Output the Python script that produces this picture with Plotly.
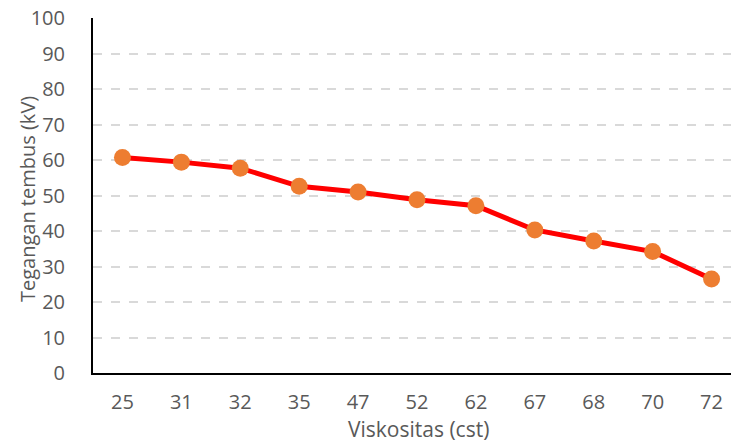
import plotly.graph_objects as go

categories = ["25", "31", "32", "35", "47", "52", "62", "67", "68", "70", "72"]
tegangan = [60.7, 59.4, 57.7, 52.6, 51.0, 48.8, 47.1, 40.3, 37.2, 34.2, 26.5]
y_ticks = [0, 10, 20, 30, 40, 50, 60, 70, 80, 90, 100]
x_title = "Viskositas (cst)"
y_title = "Tegangan tembus (kV)"

fig = go.Figure()
fig.add_trace(go.Scatter(
    x=list(range(len(categories))), y=tegangan, mode="lines+markers",
    line=dict(color="#ff0000", width=5),
    marker=dict(color="#ed7d31", size=17, line=dict(width=0)),
    showlegend=False,
))

font_family = "Open Sans, Liberation Sans, sans-serif"
fig.update_layout(
    width=731, height=442,
    margin=dict(l=93, r=0, t=18, b=69),
    paper_bgcolor="white", plot_bgcolor="white",
    font=dict(family=font_family, color="#595959", size=20),
    xaxis=dict(
        tickmode="array", tickvals=list(range(len(categories))), ticktext=categories,
        range=[-0.5, 10.33], showgrid=False, zeroline=False, automargin=False,
        showline=True, linecolor="black", linewidth=2, ticks="",
        ticklabelstandoff=10,
    ),
    yaxis=dict(
        range=[0, 100], tickvals=y_ticks, showgrid=True, automargin=False,
        gridcolor="#d9d9d9", griddash="dash", gridwidth=1.5,
        zeroline=False, showline=True, linecolor="black", linewidth=2, ticks="",
        ticklabelstandoff=22,
    ),
    annotations=[
        dict(text=x_title, xref="paper", yref="paper", x=(418 - 93) / 638,
             y=0, xanchor="center", yanchor="middle", yshift=-56, showarrow=False,
             font=dict(size=21, color="#595959")),
        dict(text=y_title, xref="paper", yref="paper", x=0, y=0.49,
             xanchor="center", yanchor="middle", xshift=-66, textangle=-90, showarrow=False,
             font=dict(size=20, color="#595959")),
    ],
)

fig.write_html(
    "out.html",
    config={"displayModeBar": False},
    post_script="document.body.style.margin='0';document.body.style.overflow='hidden';",
)
